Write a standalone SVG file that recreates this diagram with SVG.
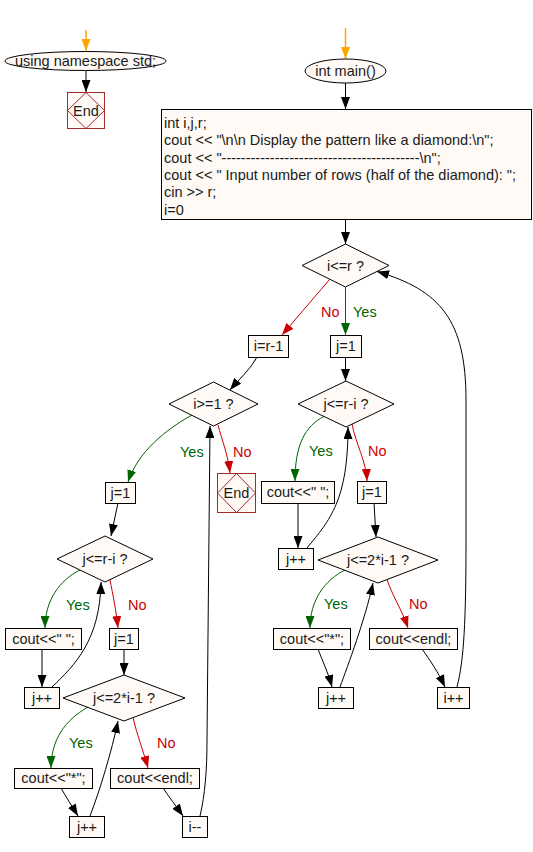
<svg xmlns="http://www.w3.org/2000/svg" width="533" height="852" viewBox="0 0 533 852">
<style>
text{font-family:"Liberation Sans",Arial,sans-serif;font-size:14.5px;fill:#1a1a1a}
.c{text-anchor:middle}
.box{fill:#fffaf5;stroke:#000;stroke-width:1}
.end{fill:#fffaf5;stroke:#a52a2a;stroke-width:1}
.endd{fill:none;stroke:#a52a2a;stroke-width:1}
.k{fill:none;stroke:#000;stroke-width:1;marker-end:url(#ak)}
.g{fill:none;stroke:#006400;stroke-width:1;marker-end:url(#ag)}
.r{fill:none;stroke:#cc0000;stroke-width:1;marker-end:url(#ar)}
.o{fill:none;stroke:#ffa500;stroke-width:1.5;marker-end:url(#ao)}
.yes{fill:#006400}
.no{fill:#cc0000}
</style>
<defs>
<marker id="ak" viewBox="0 0 12 9" refX="12" refY="4.5" markerWidth="12" markerHeight="9" markerUnits="userSpaceOnUse" orient="auto"><path d="M0,0 L12,4.5 L0,9 z" fill="#000"/></marker>
<marker id="ag" viewBox="0 0 12 9" refX="12" refY="4.5" markerWidth="12" markerHeight="9" markerUnits="userSpaceOnUse" orient="auto"><path d="M0,0 L12,4.5 L0,9 z" fill="#006400"/></marker>
<marker id="ar" viewBox="0 0 12 9" refX="12" refY="4.5" markerWidth="12" markerHeight="9" markerUnits="userSpaceOnUse" orient="auto"><path d="M0,0 L12,4.5 L0,9 z" fill="#cc0000"/></marker>
<marker id="ao" viewBox="0 0 12 9" refX="12" refY="4.5" markerWidth="12" markerHeight="9" markerUnits="userSpaceOnUse" orient="auto"><path d="M0,0 L12,4.5 L0,9 z" fill="#ffa500"/></marker>
</defs>
<rect width="533" height="852" fill="#fff"/>

<g id="connectors">
<path class="o" d="M86,30 L86,51"/>
<path class="k" d="M86,71 L86,92"/>
<path class="o" d="M345.5,28 L345.5,59"/>
<path class="k" d="M345.5,83 L345.5,109"/>
<path class="k" d="M345.5,219 L345.5,244"/>
<path class="g" d="M345.5,287 L345.5,335"/>
<path class="r" d="M330,279 L282,335"/>
<path class="k" d="M257,357 C250,370 240,378 230,390"/>
<path class="g" d="M192,415 C165,430 138,452 128,482"/>
<path class="r" d="M218,425 C222,440 228,455 230,473"/>
<path class="k" d="M200,816 C205,795 207,770 207,740 L210,426"/>
<path class="k" d="M345.5,357 L345.5,381"/>
<path class="g" d="M324,416.5 C305,426 295,445 295,481"/>
<path class="r" d="M352,424 C356,445 366,460 367,481"/>
<path class="k" d="M298,503 L298,548"/>
<path class="k" d="M307,548 C330,520 348,500 348,427"/>
<path class="k" d="M374,503 L376,537"/>
<path class="g" d="M345,570 C325,580 310,600 310,628"/>
<path class="r" d="M387,579.5 C392,595 402,610 408,628"/>
<path class="k" d="M318,649 C322,660 328,672 332,687"/>
<path class="k" d="M340,687 C348,665 365,620 373,583"/>
<path class="k" d="M422,649 C430,660 438,672 445,687"/>
<path class="k" d="M457,687 C464,660 466,620 466,540 L466,400 C466,320 440,290 377,271.5"/>
<path class="k" d="M118,503 L111,536"/>
<path class="g" d="M80,570 C60,580 45,600 45,628"/>
<path class="r" d="M110,580 C113,595 116,610 118,628"/>
<path class="k" d="M42,649 L42,687"/>
<path class="k" d="M52,687 C75,665 100,640 101,582"/>
<path class="k" d="M124,649 L124,675"/>
<path class="g" d="M88,707 C65,720 51,740 51,768"/>
<path class="r" d="M133,717.6 C137,735 143,750 148,768"/>
<path class="k" d="M61,788 C66,797 72,806 78,816"/>
<path class="k" d="M90,816 C100,790 112,750 118,721"/>
<path class="k" d="M163,788 C169,797 176,806 183,816"/>
</g>

<g id="labels">
<text class="no" x="321" y="317">No</text>
<text class="yes" x="353" y="317">Yes</text>
<text class="yes" x="180" y="457">Yes</text>
<text class="no" x="233" y="457">No</text>
<text class="yes" x="309" y="456">Yes</text>
<text class="no" x="368" y="456">No</text>
<text class="yes" x="324" y="609">Yes</text>
<text class="no" x="409" y="609">No</text>
<text class="yes" x="66" y="610">Yes</text>
<text class="no" x="128" y="610">No</text>
<text class="yes" x="69" y="748">Yes</text>
<text class="no" x="157" y="748">No</text>
</g>

<g id="ns"><ellipse class="box" cx="85.5" cy="61" rx="80.5" ry="9.5"/><text class="c" x="85.5" y="66">using namespace std;</text></g>
<g id="end1"><rect class="end" x="67.5" y="92.5" width="37" height="36"/><path class="endd" d="M86,92.5 L104.5,110.5 L86,128.5 L67.5,110.5 z"/><text class="c" x="86" y="115.5">End</text></g>

<g id="main"><ellipse class="box" cx="345.5" cy="71" rx="40.5" ry="12"/><text class="c" x="345.5" y="76">int main()</text></g>
<g id="init"><rect class="box" x="161.5" y="109.5" width="370" height="110"/>
<text x="164" y="128">int i,j,r;</text>
<text x="164" y="145.3">cout &lt;&lt; "\n\n Display the pattern like a diamond:\n";</text>
<text x="164" y="162.6">cout &lt;&lt; "-----------------------------------------\n";</text>
<text x="164" y="180">cout &lt;&lt; " Input number of rows (half of the diamond): ";</text>
<text x="164" y="197.3">cin &gt;&gt; r;</text>
<text x="164" y="214.6">i=0</text></g>

<g id="d1"><polygon class="box" points="345.5,244 389,265.5 345.5,287 302,265.5"/><text class="c" x="345.5" y="270.5">i&lt;=r ?</text></g>
<g id="b_j1a"><rect class="box" x="330.5" y="335.5" width="31" height="22"/><text class="c" x="346" y="351">j=1</text></g>
<g id="b_irm1"><rect class="box" x="248.5" y="335.5" width="40" height="22"/><text class="c" x="268.5" y="351">i=r-1</text></g>

<g id="d2"><polygon class="box" points="213.5,382 258,404 213.5,426 169,404"/><text class="c" x="213.5" y="409">i&gt;=1 ?</text></g>
<g id="b_j1b"><rect class="box" x="105.5" y="482.5" width="30" height="21"/><text class="c" x="120.5" y="497.5">j=1</text></g>
<g id="end2"><rect class="end" x="217.5" y="473.5" width="38" height="39"/><path class="endd" d="M236.5,473.5 L255.5,493 L236.5,512.5 L217.5,493 z"/><text class="c" x="236.5" y="498">End</text></g>

<g id="d3"><polygon class="box" points="346,381 394,404 346,427 298,404"/><text class="c" x="346" y="409">j&lt;=r-i ?</text></g>
<g id="b_sp_r"><rect class="box" x="261.5" y="481.5" width="73" height="22"/><text class="c" x="298" y="497">cout&lt;&lt;" ";</text></g>
<g id="b_j1c"><rect class="box" x="357.5" y="481.5" width="29" height="22"/><text class="c" x="372" y="497">j=1</text></g>
<g id="b_jpp_r1"><rect class="box" x="278.5" y="548.5" width="35" height="21"/><text class="c" x="296" y="563.5">j++</text></g>

<g id="d4"><polygon class="box" points="378,537 438,560 378,583 318,560"/><text class="c" x="378" y="565">j&lt;=2*i-1 ?</text></g>
<g id="b_st_r"><rect class="box" x="273.5" y="628.5" width="77" height="21"/><text class="c" x="312" y="643.5">cout&lt;&lt;"*";</text></g>
<g id="b_endl_r"><rect class="box" x="369.5" y="628.5" width="88" height="21"/><text class="c" x="413.5" y="643.5">cout&lt;&lt;endl;</text></g>
<g id="b_jpp_r2"><rect class="box" x="318.5" y="687.5" width="35" height="21"/><text class="c" x="336" y="702.5">j++</text></g>
<g id="b_ipp"><rect class="box" x="437.5" y="687.5" width="32" height="21"/><text class="c" x="453.5" y="702.5">i++</text></g>

<g id="d5"><polygon class="box" points="105,536 153,559 105,582 57,559"/><text class="c" x="105" y="564">j&lt;=r-i ?</text></g>
<g id="b_sp_l"><rect class="box" x="5.5" y="628.5" width="76" height="21"/><text class="c" x="43.5" y="643.5">cout&lt;&lt;" ";</text></g>
<g id="b_j1d"><rect class="box" x="109.5" y="628.5" width="29" height="21"/><text class="c" x="124" y="643.5">j=1</text></g>
<g id="b_jpp_l1"><rect class="box" x="24.5" y="687.5" width="35" height="21"/><text class="c" x="42" y="702.5">j++</text></g>

<g id="d6"><polygon class="box" points="124,675 185,698 124,721 63,698"/><text class="c" x="124" y="703">j&lt;=2*i-1 ?</text></g>
<g id="b_st_l"><rect class="box" x="14.5" y="768.5" width="78" height="20"/><text class="c" x="53.5" y="783">cout&lt;&lt;"*";</text></g>
<g id="b_endl_l"><rect class="box" x="110.5" y="768.5" width="89" height="20"/><text class="c" x="155" y="783">cout&lt;&lt;endl;</text></g>
<g id="b_jpp_l2"><rect class="box" x="69.5" y="816.5" width="35" height="21"/><text class="c" x="87" y="831.5">j++</text></g>
<g id="b_imm"><rect class="box" x="182.5" y="816.5" width="25" height="21"/><text class="c" x="195" y="831.5">i--</text></g>
</svg>
